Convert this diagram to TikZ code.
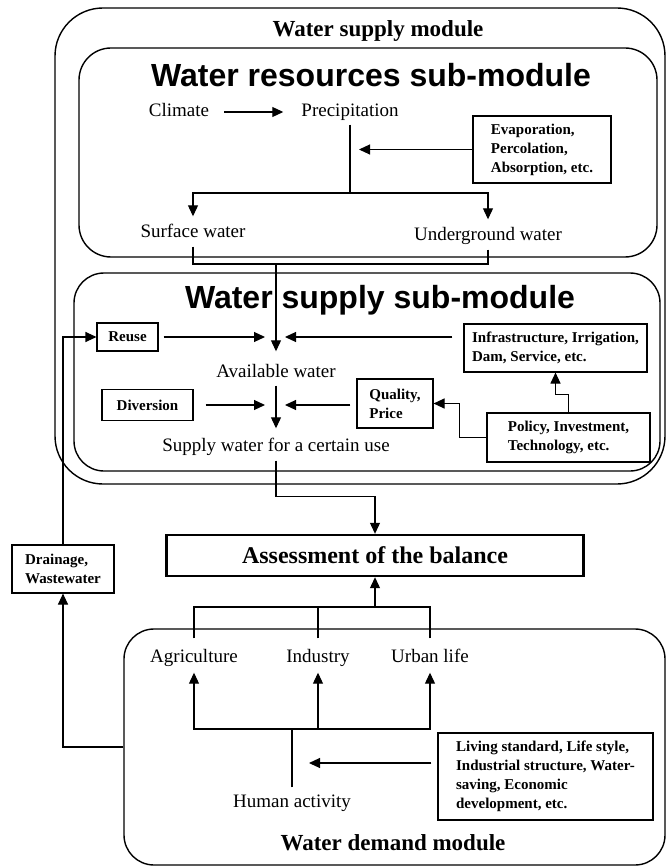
\documentclass[tikz,border=0pt]{standalone}
\usepackage{fontspec}
\setmainfont{Liberation Serif}
\newfontfamily\headfont{Liberation Sans}
\usetikzlibrary{arrows.meta}
\tikzset{frame/.style = {draw, line width = 1.4pt, inner sep = 0}}
\tikzset{lbl/.style = {font = \fontsize{19}{22}\selectfont, inner sep = 1pt, text height = 13pt, text depth = 4pt}}
\tikzset{box/.style = {draw, line width = 1.1pt, inner sep = 0, align = left, font = \bfseries\fontsize{15}{19}\selectfont}}
\tikzset{head/.style = {anchor = base, font = \headfont\bfseries\fontsize{32}{36}\selectfont}}
\tikzset{title/.style = {anchor = base, font = \bfseries\fontsize{23}{26}\selectfont}}
\tikzset{link/.style = {line width = 1.1pt}}
\tikzset{arr/.style = {line width = 1.1pt, -{Triangle[length = 11pt, width = 10pt]}}}

\begin{document}
\begin{tikzpicture}[x = 1pt, y = -1pt]
      \useasboundingbox (0, 0) rectangle (668, 866);
      \node [frame, rounded corners = 48pt, minimum width = 610pt, minimum height = 476pt] (supplymod) at (360, 246) {};
      \node [frame, rounded corners = 32pt, minimum width = 578pt, minimum height = 209pt] (resmod) at (368, 152.5) {};
      \node [frame, rounded corners = 30pt, minimum width = 586pt, minimum height = 198pt] (supmod) at (367, 372) {};
      \node [frame, rounded corners = 30pt, minimum width = 541pt, minimum height = 236pt] (demand) at (394.5, 747) {};
      \node [title] (supplytitle) at (378, 37) {Water supply module};
      \node [head] (restitle) at (371, 87) {Water resources sub-module};
      \node [head] (suptitle) at (380, 308) {Water supply sub-module};
      \node [title] (demtitle) at (393, 850) {Water demand module};
      \node [lbl] (climate) at (179, 112) {Climate};
      \node [lbl] (precip) at (350, 112) {Precipitation};
      \node [lbl] (surface) at (193, 233) {Surface water};
      \node [lbl] (under) at (488, 236) {Underground water};
      \node [lbl] (avail) at (276, 373) {Available water};
      \node [lbl] (supplyuse) at (276, 447) {Supply water for a certain use};
      \node [lbl] (agri) at (194, 658) {Agriculture};
      \node [lbl] (ind) at (318, 658) {Industry};
      \node [lbl] (urban) at (430, 658) {Urban life};
      \node [lbl] (human) at (292, 803) {Human activity};
      \node [box, minimum width = 138pt, minimum height = 67pt] (evap) at (542, 149.5) {Evaporation,\\Percolation,\\Absorption, etc.};
      \node [box, minimum width = 61pt, minimum height = 28pt] (reuse) at (127.5, 337) {Reuse};
      \node [box, minimum width = 183pt, minimum height = 48pt] (infra) at (555.5, 348) {Infrastructure, Irrigation,\\Dam, Service, etc.};
      \node [box, minimum width = 91pt, minimum height = 31pt] (div) at (147.5, 405) {Diversion};
      \node [box, minimum width = 76pt, minimum height = 49pt] (quality) at (395, 403.5) {Quality,\\Price};
      \node [box, minimum width = 163pt, minimum height = 49pt] (policy) at (568.5, 437.5) {Policy, Investment,\\Technology, etc.};
      \node [box, line width = 2.4pt, minimum width = 417pt, minimum height = 41pt, font = \bfseries\fontsize{24}{28}\selectfont] (assess) at (375, 555.5) {Assessment of the balance};
      \node [box, minimum width = 102pt, minimum height = 48pt] (drain) at (63, 569) {Drainage,\\Wastewater};
      \node [box, minimum width = 215pt, minimum height = 87pt] (living) at (545.5, 776.5) {Living standard, Life style,\\Industrial structure, Water-\\saving, Economic\\development, etc.};
      \coordinate (split) at (350, 193);
      \coordinate (merge) at (276, 264);
      \coordinate (inA) at (276, 337);
      \coordinate (inB) at (276, 405);
      \coordinate (demtop) at (375, 607);
      \coordinate (hsplit) at (292, 729);
      \coordinate (hin) at (292, 763);
      \draw [arr, shorten <= 14pt, shorten >= 17pt] (climate) -- (precip);
      \draw [link, shorten <= 3pt] (precip) -- (split);
      \draw [arr, shorten >= 9pt] (evap) -- (evap -| split);
      \draw [arr, shorten >= 7pt] (split) -| (surface);
      \draw [arr, shorten >= 7pt] (split) -| (under);
      \draw [link, shorten <= 4pt] (surface) |- (merge);
      \draw [link, shorten <= 4pt] (under) |- (merge);
      \draw [arr, shorten >= 12pt] (merge) -- (avail);
      \draw [arr, shorten <= 5pt, shorten >= 11pt] (reuse) -- (inA);
      \draw [arr, shorten <= 11pt, shorten >= 9pt] (infra.west |- inA) -- (inA);
      \draw [arr, shorten <= 3pt, shorten >= 9pt] (avail) -- (supplyuse);
      \draw [arr, shorten <= 12pt, shorten >= 11pt] (div) -- (inB);
      \draw [arr, shorten <= 6pt, shorten >= 9pt] (quality.west |- inB) -- (inB);
      \draw [arr] (policy.west) -- ++(-27, 0) |- (quality);
      \draw [arr] (policy.north) -- ++(0, -18) -| (infra);
      \draw [arr, shorten <= 4pt] (supplyuse.south) -- ++(0, 40) -| (assess.north);
      \draw [arr] (demtop) -- (assess.south);
      \draw [link, shorten <= 10pt] (agri.north) |- (demtop);
      \draw [link, shorten <= 10pt] (urban.north) |- (demtop);
      \draw [link, shorten <= 10pt] (ind.north) -- (ind.north |- demtop);
      \draw [link, shorten <= 6pt] (human) -- (hsplit);
      \draw [arr, shorten >= 5pt] (hsplit) -| (agri);
      \draw [arr, shorten >= 5pt] (hsplit) -| (urban);
      \draw [arr, shorten >= 5pt] (ind |- hsplit) -- (ind);
      \draw [arr, shorten <= 6pt, shorten >= 17pt] (living.west |- hin) -- (hin);
      \draw [arr] (demand.west) -| (drain);
      \draw [arr] (drain) |- (reuse);
    \end{tikzpicture}
\end{document}
